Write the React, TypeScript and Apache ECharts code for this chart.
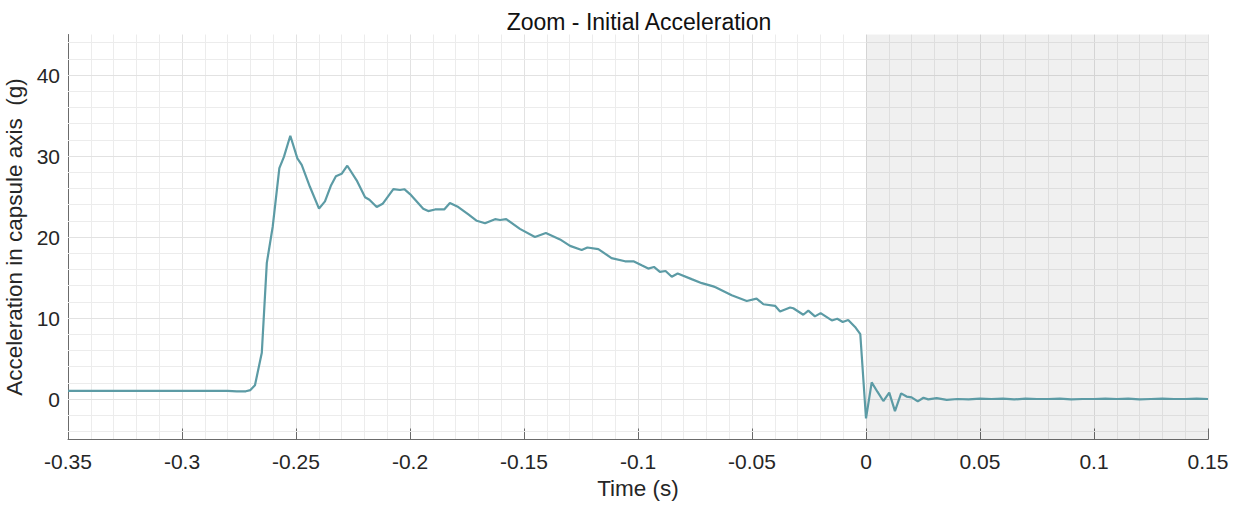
import React, { useEffect, useRef } from "react";
import * as echarts from "echarts";

const TITLE = "Zoom - Initial Acceleration";
const X_NAME = "Time (s)";
const Y_NAME = "Acceleration in capsule axis  (g)";

const X_MIN = -0.35;
const X_MAX = 0.15;
const X_STEP = 0.05;
const Y_MIN = -5;
const Y_MAX = 45;
const Y_TICKS = [0, 10, 20, 30, 40];
const SHADE_FROM = 0;
const SHADE_TO = 0.15;

const times = [
  -0.35, -0.33, -0.31, -0.29, -0.28, -0.276, -0.272, -0.27, -0.268, -0.265,
  -0.2628, -0.2602, -0.2573, -0.2553, -0.2525, -0.2494, -0.2475, -0.2439, -0.2399, -0.2373,
  -0.2346, -0.2325, -0.23, -0.2275, -0.2234, -0.2197, -0.2178, -0.2146, -0.212, -0.2073,
  -0.2044, -0.2025, -0.2, -0.1942, -0.192, -0.189, -0.185, -0.1825, -0.1788, -0.1744,
  -0.1707, -0.1671, -0.1627, -0.1605, -0.1578, -0.1518, -0.1452, -0.1404, -0.1342, -0.1298,
  -0.1247, -0.1222, -0.1174, -0.1116, -0.1057, -0.102, -0.0984, -0.0955, -0.093, -0.0904,
  -0.0879, -0.0852, -0.0826, -0.0765, -0.072, -0.067, -0.066, -0.0589, -0.0523, -0.048,
  -0.045, -0.0399, -0.0377, -0.0333, -0.0319, -0.0275, -0.0253, -0.0224, -0.0199, -0.015,
  -0.0126, -0.0102, -0.0078, -0.0048, -0.0025, 0.0, 0.0025, 0.005, 0.0076, 0.0102,
  0.0127, 0.0154, 0.0178, 0.02, 0.0227, 0.0252, 0.0273, 0.031, 0.0354, 0.04,
  0.045, 0.05, 0.055, 0.06, 0.065, 0.07, 0.075, 0.08, 0.085, 0.09,
  0.095, 0.1, 0.105, 0.11, 0.115, 0.12, 0.125, 0.13, 0.135, 0.14,
  0.145, 0.15,
];

const accel = [
  1.0, 1.0, 1.0, 1.0, 1.0, 0.95, 0.95, 1.1, 1.7, 5.7,
  16.8, 21.3, 28.5, 29.9, 32.5, 29.7, 28.9, 26.2, 23.5, 24.4,
  26.4, 27.5, 27.8, 28.8, 27.0, 24.9, 24.6, 23.7, 24.1, 25.9,
  25.8, 25.9, 25.3, 23.5, 23.2, 23.4, 23.4, 24.2, 23.7, 22.8,
  22.0, 21.7, 22.2, 22.1, 22.2, 21.0, 20.0, 20.5, 19.7, 18.9,
  18.4, 18.7, 18.5, 17.4, 17.0, 17.0, 16.5, 16.1, 16.3, 15.7,
  15.8, 15.1, 15.5, 14.8, 14.3, 13.9, 13.8, 12.8, 12.1, 12.4,
  11.7, 11.5, 10.8, 11.3, 11.2, 10.4, 10.9, 10.2, 10.6, 9.7,
  9.9, 9.5, 9.75, 8.9, 8.0, -2.4, 2.06, 0.9, -0.25, 0.78,
  -1.5, 0.7, 0.3, 0.2, -0.3, 0.15, -0.05, 0.1, -0.1, 0.0,
  -0.05, 0.05, 0.0, 0.05, -0.05, 0.05, 0.0, 0.0, 0.05, -0.05,
  0.0, 0.0, 0.05, 0.0, 0.05, -0.05, 0.0, 0.05, 0.0, 0.0,
  0.05, 0.0,
];

const FONT = "'Liberation Sans', Arial, Helvetica, sans-serif";
const TEXT_COLOR = "#262626";
const AXIS_COLOR = "#6b6b6b";
const LINE_COLOR = "#5c9ba5";
const MAJOR_GRID = "#e2e2e2";
const MINOR_GRID = "#ececec";

export default function App() {
  const ref = useRef<HTMLDivElement>(null);

  useEffect(() => {
    if (!ref.current) return;
    const chart = echarts.init(ref.current, null, { renderer: "svg" });

    const yGridLines: any[] = [];
    for (let v = -4; v <= 44; v += 2) {
      const major = Y_TICKS.indexOf(v) >= 0;
      yGridLines.push({
        yAxis: v,
        lineStyle: { color: major ? MAJOR_GRID : MINOR_GRID, width: 1, type: "solid" },
      });
    }

    const data = times.map((t, i) => [t, accel[i]]);

    chart.setOption({
      animation: false,
      backgroundColor: "#ffffff",
      title: {
        text: TITLE,
        left: 634,
        top: 5,
        textAlign: "center",
        textStyle: { fontFamily: FONT, fontSize: 23, fontWeight: "normal", color: "#111111" },
      },
      grid: {
        left: 68,
        top: 34.5,
        right: 32,
        bottom: 67.5,
        containLabel: false,
        outerBoundsMode: "none",
      },
      xAxis: {
        type: "value",
        min: X_MIN,
        max: X_MAX,
        interval: X_STEP,
        name: X_NAME,
        nameLocation: "middle",
        nameGap: 37,
        nameTextStyle: { fontFamily: FONT, fontSize: 22.5, color: TEXT_COLOR },
        axisLine: { show: true, onZero: false, lineStyle: { color: AXIS_COLOR, width: 1 } },
        axisTick: { show: true, inside: true, length: 11, lineStyle: { color: AXIS_COLOR } },
        axisLabel: { fontFamily: FONT, fontSize: 21, color: TEXT_COLOR, margin: 11 },
        splitLine: { show: true, lineStyle: { color: MAJOR_GRID, width: 1 } },
        minorTick: { show: false, splitNumber: 5 },
        minorSplitLine: { show: true, lineStyle: { color: MINOR_GRID, width: 1 } },
      },
      yAxis: {
        type: "value",
        min: Y_MIN,
        max: Y_MAX,
        name: Y_NAME,
        nameLocation: "middle",
        nameGap: 34,
        nameTextStyle: { fontFamily: FONT, fontSize: 22.5, color: TEXT_COLOR },
        axisLine: { show: true, onZero: false, lineStyle: { color: AXIS_COLOR, width: 1 } },
        axisTick: { show: true, inside: true, length: 11, customValues: Y_TICKS, lineStyle: { color: AXIS_COLOR } },
        axisLabel: { fontFamily: FONT, fontSize: 21, color: TEXT_COLOR, margin: 8, customValues: Y_TICKS },
        splitLine: { show: false },
      },
      series: [
        {
          type: "line",
          data: [],
          silent: true,
          z: 1,
          markLine: {
            silent: true,
            symbol: "none",
            z: 1,
            label: { show: false },
            emphasis: { disabled: true },
            data: yGridLines,
          },
        },
        {
          type: "line",
          data: [],
          silent: true,
          z: 2,
          markArea: {
            silent: true,
            z: 2,
            itemStyle: { color: "rgba(0,0,0,0.06)" },
            label: { show: false },
            data: [[{ xAxis: SHADE_FROM }, { xAxis: SHADE_TO }]],
          },
        },
        {
          type: "line",
          data,
          z: 3,
          symbol: "none",
          smooth: false,
          clip: true,
          lineStyle: { color: LINE_COLOR, width: 2.2 },
          itemStyle: { color: LINE_COLOR },
        },
      ],
    });

    return () => chart.dispose();
  }, []);

  return (
    <div
      ref={ref}
      style={{ position: "fixed", left: 0, top: 0, width: 1240, height: 507 }}
    />
  );
}
